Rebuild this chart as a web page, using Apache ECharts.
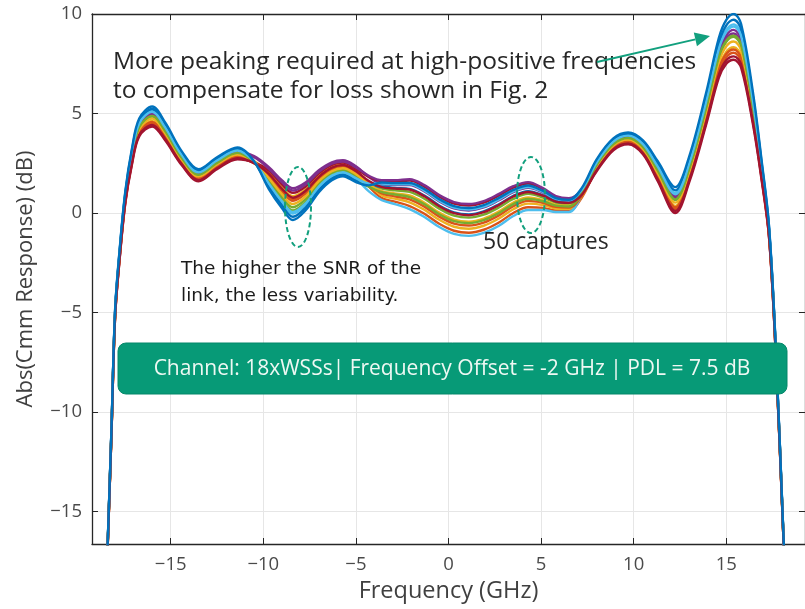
<!DOCTYPE html>
<html><head><meta charset="utf-8">
<script src="https://cdn.jsdelivr.net/npm/echarts@6/dist/echarts.min.js"></script>
<style>html,body{margin:0;padding:0;background:#fff}#c{width:805px;height:609px}</style>
</head><body><div id="c"></div><script>
// ---- data ----
const freqGHz = [-18.5,-18.4,-18.2,-18.0,-17.75,-17.45,-17.1,-16.7,-16.0,-15.3,-14.4,-13.5,-12.5,-11.4,-10.5,-9.7,-9.0,-8.4,-7.7,-7.0,-6.3,-5.7,-5.0,-4.3,-3.6,-2.9,-2.1,-1.3,-0.5,0.3,1.1,1.9,2.7,3.5,4.3,5.1,5.8,6.5,7.2,8.0,8.9,9.7,10.5,11.3,12.25,13.0,13.9,14.6,15.0,15.4,15.8,16.45,16.9,17.3,17.65,18.1,18.2];
const capture01 = [-19.57,-16.67,-11.11,-5.14,-2.18,0.59,2.52,3.99,4.5,3.79,2.51,1.69,2.29,2.79,2.5,1.86,1.09,0.61,0.99,1.71,2.19,2.33,2.03,1.32,0.75,0.57,0.35,-0.04,-0.54,-0.89,-0.99,-0.84,-0.49,0.0,0.29,0.26,0.13,0.12,0.78,2.19,3.24,3.54,3.06,1.75,0.2,1.75,4.64,7.1,7.83,8.05,7.63,4.64,1.85,-1.06,-6.64,-16.67,-18.92];
const capture02 = [-19.55,-16.65,-11.07,-5.09,-2.11,0.67,2.62,4.1,4.63,3.9,2.59,1.77,2.37,2.87,2.61,2.03,1.3,0.85,1.2,1.88,2.33,2.45,2.15,1.44,0.88,0.72,0.54,0.16,-0.34,-0.69,-0.79,-0.64,-0.29,0.19,0.47,0.4,0.23,0.21,0.85,2.27,3.32,3.62,3.14,1.88,0.36,1.91,4.84,7.35,8.1,8.33,7.9,4.84,1.98,-0.99,-6.59,-16.65,-18.9];
const capture03 = [-19.47,-16.57,-10.96,-4.94,-1.93,0.89,2.92,4.44,5.0,4.24,2.86,1.99,2.59,3.09,2.86,2.3,1.65,1.25,1.55,2.15,2.55,2.65,2.35,1.81,1.45,1.41,1.4,1.08,0.58,0.23,0.13,0.28,0.63,1.05,1.27,1.03,0.69,0.61,1.14,2.49,3.54,3.84,3.41,2.25,0.85,2.4,5.44,8.1,8.93,9.2,8.73,5.44,2.35,-0.76,-6.44,-16.57,-18.82];
const capture04 = [-19.5,-16.6,-11.0,-5.0,-2.0,0.8,2.8,4.3,4.85,4.1,2.75,1.9,2.5,3.0,2.56,1.64,0.81,0.29,0.71,1.49,2.01,2.17,1.87,1.44,1.23,1.14,1.06,0.72,0.22,-0.13,-0.23,-0.08,0.27,0.71,0.96,0.78,0.51,0.45,1.02,2.4,3.45,3.75,3.3,2.1,0.65,2.2,5.2,7.8,8.6,8.85,8.4,5.2,2.2,-0.85,-6.5,-16.6,-18.85];
const capture05 = [-19.45,-16.55,-10.92,-4.89,-1.86,0.97,3.02,4.55,5.13,4.35,2.94,2.07,2.67,3.17,2.59,1.42,0.53,-0.03,0.43,1.27,1.83,2.01,1.71,1.09,0.65,0.45,0.2,-0.2,-0.7,-1.05,-1.15,-1.0,-0.65,-0.15,0.15,0.15,0.05,0.05,0.93,2.57,3.62,3.92,3.49,2.38,1.01,2.56,5.64,8.35,9.2,9.48,9.0,5.64,2.48,-0.69,-6.39,-16.55,-18.8];
const capture06 = [-19.6,-16.7,-11.15,-5.2,-2.25,0.5,2.4,3.85,4.35,3.65,2.4,1.6,2.2,2.7,2.54,2.14,1.44,1.01,1.34,1.99,2.42,2.53,2.23,1.81,1.6,1.59,1.63,1.32,0.82,0.47,0.37,0.52,0.87,1.28,1.48,1.2,0.81,0.72,0.99,2.1,3.15,3.45,2.95,1.6,0.0,1.55,4.4,6.8,7.5,7.7,7.3,4.4,1.7,-1.15,-6.7,-16.7,-18.95];
const capture07 = [-19.43,-16.53,-10.89,-4.85,-1.81,1.03,3.1,4.64,5.23,4.44,3.01,2.13,2.73,3.23,2.59,1.31,0.39,-0.19,0.29,1.16,1.74,1.93,1.63,1.35,1.33,1.26,1.21,0.88,0.38,0.03,-0.07,0.08,0.43,0.86,1.1,0.89,0.59,0.52,1.17,2.63,3.68,3.98,3.56,2.48,1.14,2.69,5.8,8.55,9.43,9.71,9.23,5.8,2.58,-0.63,-6.35,-16.53,-18.78];
const capture08 = [-19.56,-16.66,-11.08,-5.11,-2.14,0.64,2.58,4.05,4.58,3.85,2.56,1.74,2.34,2.84,2.55,1.92,1.16,0.69,1.06,1.77,2.24,2.37,2.07,1.44,0.98,0.84,0.69,0.32,-0.18,-0.53,-0.63,-0.48,-0.13,0.34,0.61,0.51,0.31,0.28,0.87,2.24,3.29,3.59,3.11,1.83,0.29,1.84,4.76,7.25,8.0,8.22,7.8,4.76,1.93,-1.02,-6.61,-16.66,-18.91];
const capture09 = [-19.52,-16.62,-11.03,-5.04,-2.05,0.74,2.72,4.21,4.75,4.01,2.68,1.84,2.44,2.94,2.56,1.75,0.95,0.45,0.85,1.6,2.1,2.25,1.95,1.43,1.1,0.99,0.88,0.52,0.02,-0.33,-0.43,-0.28,0.07,0.53,0.78,0.65,0.41,0.37,0.96,2.34,3.39,3.69,3.23,2.0,0.52,2.07,5.04,7.6,8.38,8.62,8.18,5.04,2.1,-0.91,-6.54,-16.62,-18.87];
const capture10 = [-19.49,-16.59,-10.98,-4.97,-1.96,0.85,2.86,4.37,4.93,4.17,2.8,1.95,2.55,3.05,2.8,2.22,1.55,1.13,1.45,2.07,2.48,2.59,2.29,1.87,1.65,1.65,1.7,1.4,0.9,0.55,0.45,0.6,0.95,1.35,1.55,1.25,0.85,0.75,1.17,2.45,3.5,3.8,3.35,2.18,0.75,2.3,5.32,7.95,8.77,9.02,8.57,5.32,2.28,-0.8,-6.47,-16.59,-18.84];
const capture11 = [-19.5,-16.6,-10.99,-4.99,-1.99,0.82,2.82,4.32,4.88,4.12,2.77,1.92,2.52,3.02,2.53,1.53,0.67,0.13,0.57,1.38,1.92,2.09,1.79,1.32,1.05,0.93,0.8,0.44,-0.06,-0.41,-0.51,-0.36,-0.01,0.45,0.71,0.59,0.37,0.33,0.98,2.42,3.47,3.77,3.32,2.13,0.68,2.23,5.24,7.85,8.66,8.91,8.46,5.24,2.23,-0.84,-6.49,-16.6,-18.85];
const capture12 = [-19.46,-16.56,-10.93,-4.91,-1.89,0.94,2.98,4.5,5.08,4.3,2.91,2.04,2.64,3.14,2.59,1.48,0.6,0.05,0.5,1.33,1.88,2.05,1.75,1.48,1.48,1.44,1.44,1.12,0.62,0.27,0.17,0.32,0.67,1.09,1.31,1.06,0.71,0.63,1.17,2.54,3.59,3.89,3.46,2.33,0.94,2.49,5.56,8.25,9.1,9.37,8.9,5.56,2.43,-0.72,-6.41,-16.56,-18.81];
const capture13 = [-19.59,-16.69,-11.13,-5.17,-2.21,0.55,2.46,3.92,4.43,3.72,2.45,1.65,2.25,2.75,2.51,1.97,1.23,0.77,1.13,1.82,2.28,2.41,2.11,1.61,1.3,1.23,1.18,0.84,0.34,-0.01,-0.11,0.04,0.39,0.83,1.06,0.87,0.57,0.51,0.92,2.15,3.2,3.5,3.0,1.68,0.1,1.65,4.52,6.95,7.67,7.87,7.47,4.52,1.78,-1.11,-6.67,-16.69,-18.94];
const capture14 = [-19.4,-16.5,-10.85,-4.8,-1.75,1.1,3.2,4.75,5.35,4.55,3.1,2.2,2.8,3.3,2.6,1.2,0.25,-0.35,0.15,1.05,1.65,1.85,1.55,1.39,1.53,1.5,1.51,1.2,0.7,0.35,0.25,0.4,0.75,1.16,1.38,1.11,0.75,0.66,1.26,2.7,3.75,4.05,3.65,2.6,1.3,2.85,6.0,8.8,9.7,10.0,9.5,6.0,2.7,-0.55,-6.3,-16.5,-18.75];
const captures = [capture01,capture02,capture03,capture04,capture05,capture06,capture07,capture08,capture09,capture10,capture11,capture12,capture13,capture14];
const captureColors = ['#D95319','#EDB120','#7E2F8E','#77AC30','#4DBEEE','#A2142F','#0072BD','#D95319','#EDB120','#7E2F8E','#77AC30','#4DBEEE','#A2142F','#0072BD'];
const xTicks = [-15,-10,-5,0,5,10,15];
const yTicks = [-15,-10,-5,0,5,10];
const xRange = [-19.25, 19.25];
const yRange = [-16.63, 10];

// ---- chart ----
const fmt = v => (v < 0 ? '\u2212' + Math.abs(v) : String(v));
const axisColor = '#262626';
const tickFont = {color:'#4a4a4a', fontSize:18.5, fontFamily:'Open Sans'};
const chart = echarts.init(document.getElementById('c'), null, {renderer:'canvas'});
const series = captures.map((vals,k)=>({
  type:'line', data: freqGHz.map((f,i)=>[f, vals[i]]), showSymbol:false, smooth:0.35,
  lineStyle:{width:2.4, color:captureColors[k]}, itemStyle:{color:captureColors[k]}, clip:true, silent:true
}));
const annColor = '#12a07e';
const tip = [710, 36], tail = [597, 62];
const ang = Math.atan2(tip[1]-tail[1], tip[0]-tail[0]);
const hl = 15, hw = 7;
const base = [tip[0]-hl*Math.cos(ang), tip[1]-hl*Math.sin(ang)];
const head = [tip, [base[0]+hw*Math.sin(ang), base[1]-hw*Math.cos(ang)], [base[0]-hw*Math.sin(ang), base[1]+hw*Math.cos(ang)]];
const txt = (x,y,t,font,fill) => ({type:'text', x, y, z:100, style:{text:t, font, fill, textAlign:'left', textVerticalAlign:'middle', align:'left', verticalAlign:'middle'}});
chart.setOption({
  animation:false,
  grid:{left:92, top:14, right:-3, bottom:65, containLabel:false},
  xAxis:[{
    type:'value', min:xRange[0], max:xRange[1], position:'bottom',
    axisLine:{show:true, onZero:false, lineStyle:{color:axisColor, width:1.3}},
    axisTick:{show:true, inside:true, length:6, customValues:xTicks, lineStyle:{color:axisColor}},
    axisLabel:Object.assign({customValues:xTicks, formatter:fmt, margin:11}, tickFont),
    splitLine:{show:true, lineStyle:{color:'#e6e6e6', width:1}},
    name:'Frequency (GHz)', nameLocation:'middle', nameGap:35,
    nameTextStyle:{color:'#404040', fontSize:23.5, fontFamily:'Open Sans'}
  },{
    type:'value', min:xRange[0], max:xRange[1], position:'top', gridIndex:0,
    axisLine:{show:true, onZero:false, lineStyle:{color:axisColor, width:1.3}},
    axisTick:{show:true, inside:true, length:6, customValues:xTicks, lineStyle:{color:axisColor}},
    axisLabel:{show:false}, splitLine:{show:false}
  }],
  yAxis:[{
    type:'value', min:yRange[0], max:yRange[1], position:'left',
    axisLine:{show:true, onZero:false, lineStyle:{color:axisColor, width:1.3}},
    axisTick:{show:true, inside:true, length:6, customValues:yTicks, lineStyle:{color:axisColor}},
    axisLabel:Object.assign({customValues:yTicks, formatter:fmt, margin:10}, tickFont),
    splitLine:{show:true, lineStyle:{color:'#e6e6e6', width:1}},
    name:'Abs(Cmm Response) (dB)', nameLocation:'middle', nameGap:55,
    nameTextStyle:{color:'#404040', fontSize:22, fontFamily:'Open Sans'}
  },{
    type:'value', min:yRange[0], max:yRange[1], position:'right', gridIndex:0,
    axisLine:{show:true, onZero:false, lineStyle:{color:axisColor, width:1.3}},
    axisTick:{show:true, inside:true, length:6, customValues:yTicks, lineStyle:{color:axisColor}},
    axisLabel:{show:false}, splitLine:{show:false}
  }],
  series:series,
  graphic:[
    txt(113, 62, 'More peaking required at high-positive frequencies', '24.5px "Open Sans"', '#262626'),
    txt(113, 91, 'to compensate for loss shown in Fig. 2', '24.5px "Open Sans"', '#262626'),
    {type:'line', z:100, shape:{x1:tail[0], y1:tail[1], x2:base[0], y2:base[1]}, style:{stroke:annColor, lineWidth:2}},
    {type:'polygon', z:100, shape:{points:head}, style:{fill:annColor}},
    {type:'ellipse', z:100, shape:{cx:298, cy:207, rx:13, ry:40}, style:{fill:null, stroke:annColor, lineWidth:2, lineDash:[5,3]}},
    {type:'ellipse', z:100, shape:{cx:531, cy:195, rx:14, ry:38}, style:{fill:null, stroke:annColor, lineWidth:2, lineDash:[5,3]}},
    txt(483, 242, '50 captures', '23px "Open Sans"', '#262626'),
    txt(181, 269, 'The higher the SNR of the', '18.5px "DejaVu Sans"', '#1a1a1a'),
    txt(181, 296, 'link, the less variability.', '18.5px "DejaVu Sans"', '#1a1a1a'),
    {type:'rect', z:100, shape:{x:118, y:343, width:669, height:51, r:8}, style:{fill:'#079a77', stroke:'#05876a', lineWidth:1}},
    {type:'text', z:101, x:452, y:369, style:{text:'Channel: 18xWSSs| Frequency Offset = -2 GHz | PDL = 7.5 dB', font:'21px "Open Sans"', fill:'#eef8f3', textAlign:'center', textVerticalAlign:'middle', align:'center', verticalAlign:'middle'}}
  ]
});
</script></body></html>
